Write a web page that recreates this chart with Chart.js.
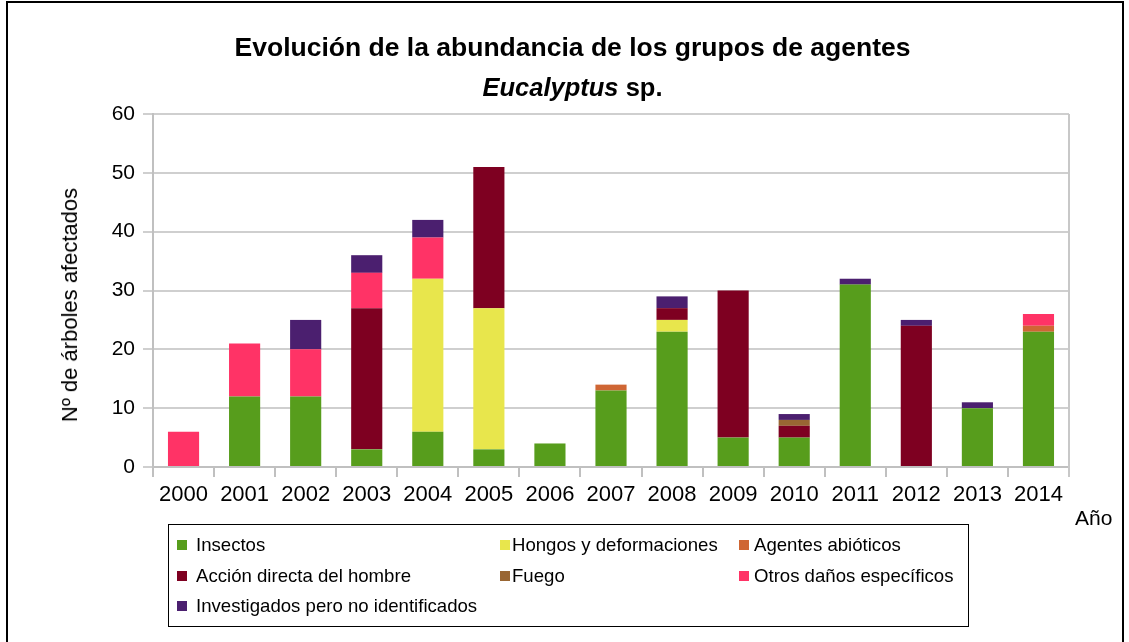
<!DOCTYPE html>
<html>
<head>
<meta charset="utf-8">
<script src="https://cdn.jsdelivr.net/npm/chart.js@4.4.1/dist/chart.umd.min.js"></script>
<style>
  html, body { margin: 0; padding: 0; background: #fff; }
  body { width: 1129px; height: 642px; position: relative; overflow: hidden; font-family: "Liberation Sans", Arial, sans-serif; }
  #frame { position: absolute; left: 6px; top: 1px; width: 1118px; height: 700px; border: 2px solid #000; box-sizing: border-box; }
  #chartWrap { position: absolute; left: 0; top: 0; width: 1129px; height: 642px; }
  .title { position: absolute; left: 0; width: 1145px; text-align: center; font-weight: bold; color: #000; }
  #t1 { top: 32px; font-size: 26.5px; }
  #t2 { top: 73px; font-size: 25.5px; }
  #ytitle { position: absolute; left: 70px; top: 305px; font-size: 22px; white-space: nowrap; transform: translate(-50%, -50%) rotate(-90deg); }
  #anio { position: absolute; left: 1075px; top: 506px; font-size: 21px; }
  #legend { position: absolute; left: 168px; top: 524px; width: 801px; height: 103px; border: 1px solid #000; box-sizing: border-box; font-size: 18.6px; }
  .item { position: absolute; white-space: nowrap; line-height: 20px; }
  .sw { position: absolute; width: 10px; height: 10px; }
</style>
</head>
<body>
<div id="frame"></div>
<div id="chartWrap"><canvas id="chart" width="1129" height="642"></canvas></div>
<div class="title" id="t1">Evolución de la abundancia de los grupos de agentes</div>
<div class="title" id="t2"><i>Eucalyptus</i> sp.</div>
<div id="ytitle">Nº de árboles afectados</div>
<div id="anio">Año</div>
<div id="legend"></div>
<script>
const years = ['2000','2001','2002','2003','2004','2005','2006','2007','2008','2009','2010','2011','2012','2013','2014'];

const insectos     = [0, 12, 12,  3,  6,  3, 4, 13, 23,  5, 5, 31,  0, 10, 23];
const hongos       = [0,  0,  0,  0, 26, 24, 0,  0,  2,  0, 0,  0,  0,  0,  0];
const abioticos    = [0,  0,  0,  0,  0,  0, 0,  1,  0,  0, 0,  0,  0,  0,  1];
const accion       = [0,  0,  0, 24,  0, 24, 0,  0,  2, 25, 2,  0, 24,  0,  0];
const fuego        = [0,  0,  0,  0,  0,  0, 0,  0,  0,  0, 1,  0,  0,  0,  0];
const otros        = [6,  9,  8,  6,  7,  0, 0,  0,  0,  0, 0,  0,  0,  0,  2];
const investigados = [0,  0,  5,  3,  3,  0, 0,  0,  2,  0, 1,  1,  1,  1,  0];

const yMin = 0, yMax = 60, yStep = 10;

const series = [
  { label: 'Insectos', data: insectos, color: '#579d1c' },
  { label: 'Hongos y deformaciones', data: hongos, color: '#e8e64c' },
  { label: 'Agentes abióticos', data: abioticos, color: '#cf6634' },
  { label: 'Acción directa del hombre', data: accion, color: '#7e0021' },
  { label: 'Fuego', data: fuego, color: '#996633' },
  { label: 'Otros daños específicos', data: otros, color: '#ff3366' },
  { label: 'Investigados pero no identificados', data: investigados, color: '#4b1f6f' }
];

// leyenda en 3 columnas: [x cuadro, x texto, y]
const legendPos = [
  [8, 27, 10], [331, 343, 10], [570, 585, 10],
  [8, 27, 41], [331, 343, 41], [570, 585, 41],
  [8, 27, 71]
];
const legend = document.getElementById('legend');
series.forEach((s, i) => {
  const sw = document.createElement('div');
  sw.className = 'sw';
  sw.style.background = s.color;
  sw.style.left = legendPos[i][0] + 'px';
  sw.style.top = (legendPos[i][2] + 5) + 'px';
  legend.appendChild(sw);
  const el = document.createElement('div');
  el.className = 'item';
  el.style.left = legendPos[i][1] + 'px';
  el.style.top = legendPos[i][2] + 'px';
  el.textContent = s.label;
  legend.appendChild(el);
});

// borde derecho del área del gráfico
const rightEdge = {
  id: 'rightEdge',
  afterDraw(chart) {
    const a = chart.chartArea;
    const c = chart.ctx;
    c.save();
    c.strokeStyle = '#c8c8c8';
    c.lineWidth = 2;
    c.beginPath();
    c.moveTo(a.right, a.top);
    c.lineTo(a.right, a.bottom + 10);
    c.stroke();
    c.restore();
  }
};

Chart.defaults.font.family = '"Liberation Sans", Arial, sans-serif';
Chart.defaults.color = '#000';

new Chart(document.getElementById('chart'), {
  type: 'bar',
  data: {
    labels: years,
    datasets: series.map(s => ({
      label: s.label,
      data: s.data,
      backgroundColor: s.color,
      borderWidth: 0,
      barPercentage: 0.51,
      categoryPercentage: 1
    }))
  },
  options: {
    responsive: false,
    animation: false,
    layout: { padding: { left: 0, top: 114, right: 60, bottom: 0 } },
    plugins: {
      legend: { display: false },
      tooltip: { enabled: false }
    },
    scales: {
      x: {
        stacked: true,
        offset: true,
        afterFit: (s) => { s.height = 175; },
        grid: {
          offset: true,
          drawOnChartArea: false,
          color: '#c0c0c0',
          lineWidth: 2,
          tickLength: 10
        },
        border: { color: '#c0c0c0', width: 2 },
        ticks: { font: { size: 22 }, padding: 5, maxRotation: 0 }
      },
      y: {
        stacked: true,
        min: yMin,
        max: yMax,
        afterFit: (s) => { s.width = 153; },
        ticks: { stepSize: yStep, font: { size: 21 }, padding: 8 },
        grid: { color: '#cfcfcf', lineWidth: 2, tickLength: 10 },
        border: { color: '#c0c0c0', width: 2 }
      }
    }
  },
  plugins: [rightEdge]
});
</script>
</body>
</html>
